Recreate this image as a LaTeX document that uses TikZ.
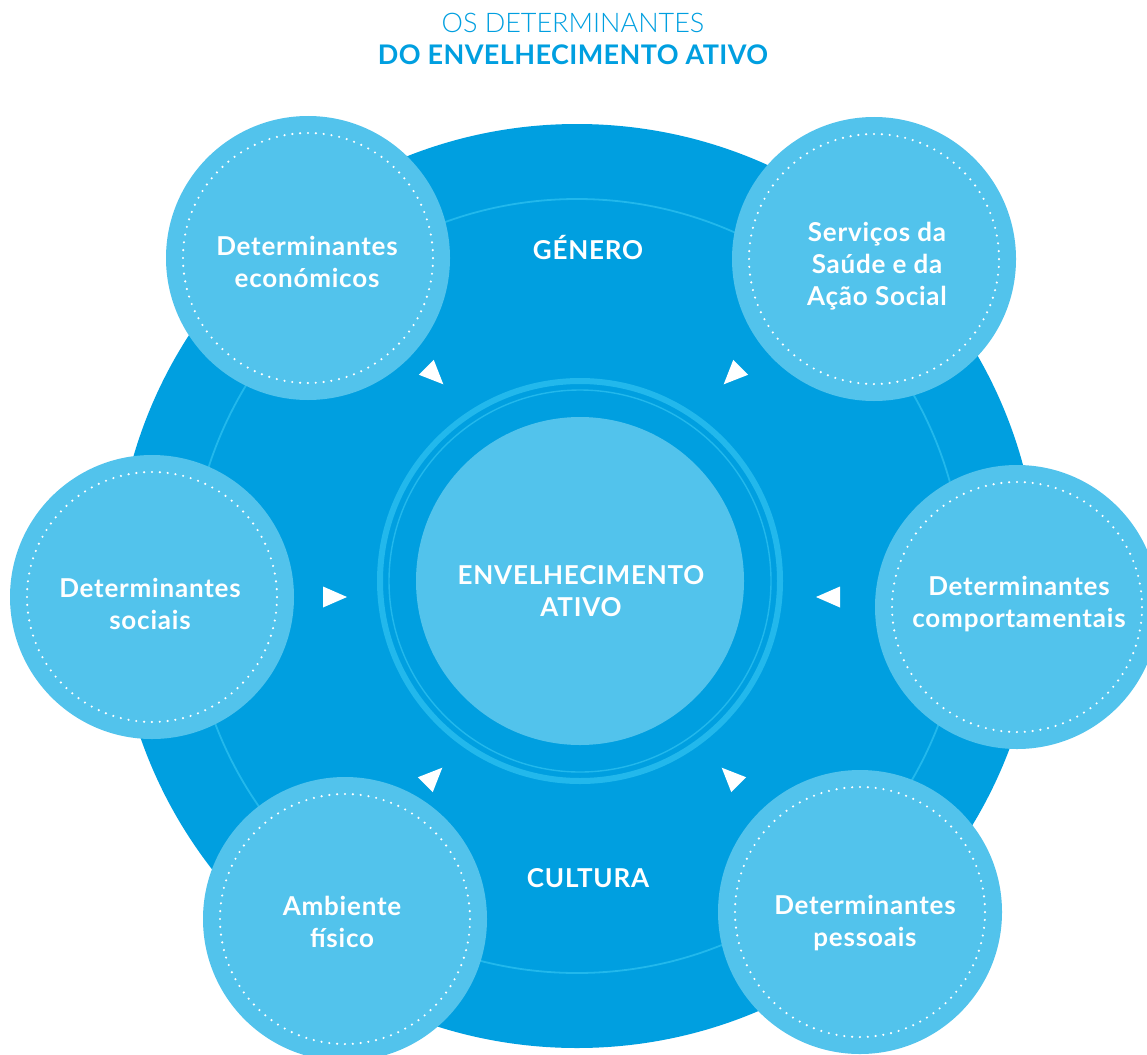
\documentclass[tikz,border=0pt]{standalone}
\usepackage{fontspec}
\setmainfont{Lato}
\newfontfamily\lightfont{Lato Light}
\newfontfamily\labfont{Lato Bold}[LetterSpace=3]
\newfontfamily\titfont{Lato Bold}[LetterSpace=1.5]
\definecolor{dkblue}{HTML}{009FE0}
\definecolor{ltblue}{HTML}{52C3EC}
\definecolor{ringblue}{HTML}{22B8EC}
\begin{document}
\begin{tikzpicture}[x=1pt,y=-1pt,
  satcircle/.style={circle, fill=ltblue, minimum size=284pt, inner sep=0pt},
  dotring/.style={white, line width=2.4pt, dash pattern=on 0pt off 7.854pt, line cap=round},
  lbl/.style={text=white, font=\labfont\fontsize{26}{32}\selectfont, align=center, inner sep=0pt},
  tri/.style={fill=white}]
\useasboundingbox (0,0) rectangle (1147,1054);
\clip (0,0) rectangle (1147,1054);
\fill[white] (0,0) rectangle (1147,1054);
% title
\node[anchor=base, text=dkblue, font=\lightfont\fontsize{27}{32}\selectfont, inner sep=0pt] (t1) at (573,33) {OS DETERMINANTES};
\node[anchor=base, text=dkblue, font=\titfont\fontsize{27}{32}\selectfont, inner sep=0pt] (t2) at (573,65) {DO ENVELHECIMENTO ATIVO};
% big circle
\node[circle, fill=dkblue, minimum size=924pt, inner sep=0pt] (big) at (577,586) {};
\draw[ringblue, line width=1.8pt] (big.center) circle[radius=387pt];
% centre
\coordinate (c) at (580,581);
\draw[ringblue, line width=6pt] (c) circle[radius=200pt];
\draw[ringblue, line width=1.4pt] (c) circle[radius=191pt];
\node[circle, fill=ltblue, minimum size=328pt, inner sep=0pt] (core) at (c) {};
\node[lbl] (coretxt) at (581,591) {ENVELHECIMENTO\\ATIVO};
% labels on ring
\node[lbl, anchor=base] (gen) at (588,259) {GÉNERO};
\node[lbl, anchor=base] (cul) at (588,887) {CULTURA};
% satellites
\node[satcircle] (s1) at (308,258) {};
\node[satcircle] (s2) at (874,259) {};
\node[satcircle] (s3) at (152,597) {};
\node[satcircle] (s4) at (1017,607) {};
\node[satcircle] (s5) at (345,919) {};
\node[satcircle] (s6) at (860,912) {};
\foreach \s in {s1,s2,s3,s4,s5,s6}{
  \draw[dotring] (\s.center) circle[radius=125pt];
}
\node[lbl] (l1) at (307,261.5) {Determinantes\\económicos};
\node[lbl] (l2) at (877,266) {Serviços da\\Saúde e da\\Ação Social};
\node[lbl] (l3) at (150,603.5) {Determinantes\\sociais};
\node[lbl] (l4) at (1019,604) {Determinantes\\comportamentais};
\node[lbl] (l5) at (342,921.5) {Ambiente\\físico};
\node[lbl] (l6) at (865,923) {Determinantes\\pessoais};
% triangles
\foreach \x/\y/\a in {432/373/-45, 735/373/-135, 331/597/0, 832/597/180, 431/779/45, 733/779/135}{
  \fill[tri, shift={(\x,\y)}, rotate=\a] (16,0) -- (-8,10.5) -- (-8,-10.5) -- cycle;
}
\end{tikzpicture}
\end{document}
